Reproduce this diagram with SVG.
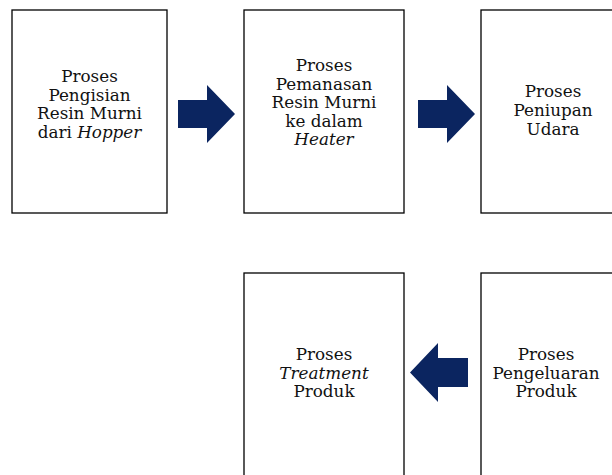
<svg xmlns="http://www.w3.org/2000/svg" width="612" height="475" viewBox="0 0 612 475">
<style>
.box{fill:#fff;stroke:#000;stroke-width:1.3}
.t{font-family:'DejaVu Serif','Liberation Serif',serif;font-size:16.8px;fill:#111;text-anchor:middle}
.i{font-style:italic}
.arr{fill:#0b2560}
</style>
<rect width="612" height="475" fill="#fff"/>
<g id="node1">
<rect class="box" x="12" y="10" width="155" height="203"/>
<text class="t" x="89.5" y="82">Proses</text>
<text class="t" x="89.5" y="100.5">Pengisian</text>
<text class="t" x="89.5" y="119">Resin Murni</text>
<text class="t" x="89.5" y="137.5">dari <tspan class="i">Hopper</tspan></text>
</g>
<g id="node2">
<rect class="box" x="244" y="10" width="160" height="203"/>
<text class="t" x="324" y="71">Proses</text>
<text class="t" x="324" y="89.5">Pemanasan</text>
<text class="t" x="324" y="108">Resin Murni</text>
<text class="t" x="324" y="126.5">ke dalam</text>
<text class="t i" x="324" y="145">Heater</text>
</g>
<g id="node3">
<rect class="box" x="481" y="10" width="140" height="203"/>
<text class="t" x="553" y="97">Proses</text>
<text class="t" x="553" y="116">Peniupan</text>
<text class="t" x="553" y="134.5">Udara</text>
</g>
<g id="node4">
<rect class="box" x="244" y="273" width="160" height="220"/>
<text class="t" x="324" y="360">Proses</text>
<text class="t i" x="324" y="378.5">Treatment</text>
<text class="t" x="324" y="397">Produk</text>
</g>
<g id="node5">
<rect class="box" x="481" y="273" width="140" height="220"/>
<text class="t" x="546" y="360">Proses</text>
<text class="t" x="546" y="378.5">Pengeluaran</text>
<text class="t" x="546" y="397">Produk</text>
</g>
<g id="connectors">
<path class="arr" d="M178 100H207V85L235 114L207 143V128H178Z"/>
<path class="arr" d="M418 100H447V85L475 114L447 143V128H418Z"/>
<path class="arr" d="M468 358H438V343L410 372.5L438 402V387H468Z"/>
</g>
</svg>
